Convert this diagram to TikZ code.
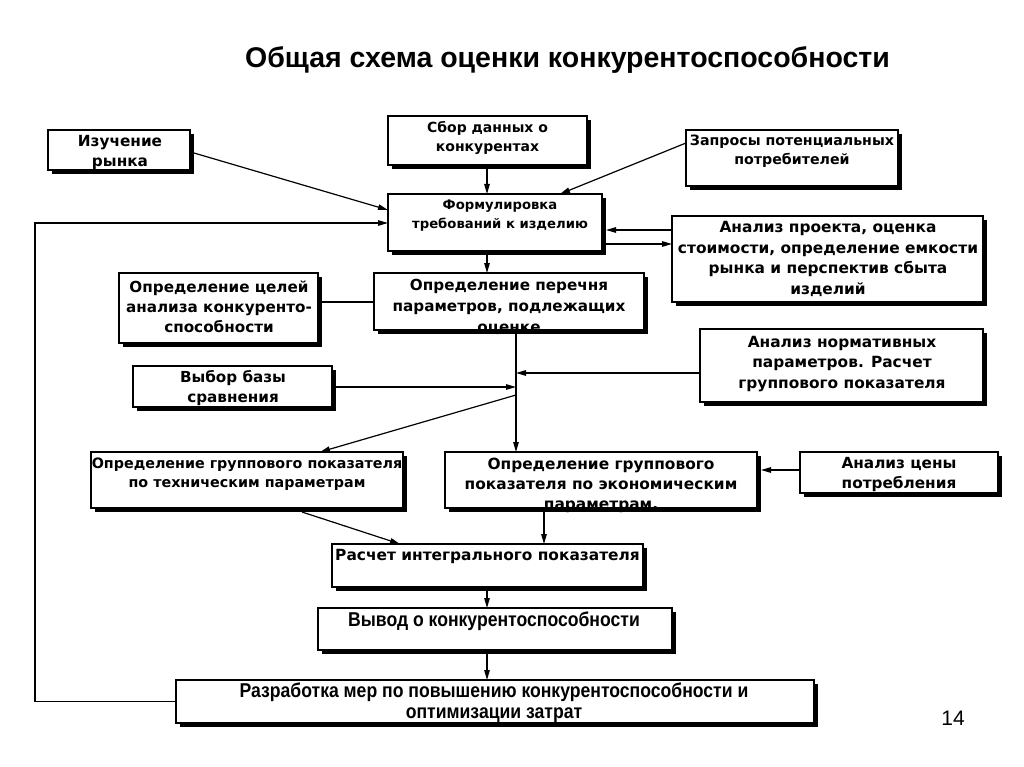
\documentclass[tikz,border=0pt]{standalone}
\usepackage{fontspec}
\usetikzlibrary{arrows.meta,calc,shadows}
\newfontfamily\boxfont{DejaVu Sans}
\newfontfamily\narrowfont[FakeStretch=0.88]{Liberation Sans}
\newfontfamily\titlefont{Liberation Sans}
\begin{document}
\begin{tikzpicture}[x=1pt,y=-1pt,
  box/.style={draw, line width=1.2pt, fill=white, anchor=north west, inner sep=0pt, outer sep=0pt,
    drop shadow={shadow xshift=4pt, shadow yshift=-4pt, opacity=1, fill=black}},
  txt/.style 2 args={align=center, inner sep=0pt, font=\boxfont\bfseries\fontsize{#1}{#2}\selectfont},
  ntxt/.style={align=center, inner sep=0pt, font=\narrowfont\bfseries\fontsize{20}{21}\selectfont},
  arr/.style={line width=1.2pt, -{Triangle[length=10pt,width=5.5pt]}},
  ln/.style={line width=1.2pt}]
\useasboundingbox (0,0) rectangle (1024,767);
\fill[white] (0,0) rectangle (1024,767);

% title and page number
\node[font=\titlefont\bfseries\fontsize{28.5}{32}\selectfont] (title) at (567.5,60) {Общая схема оценки конкурентоспособности};
\node[font=\titlefont\fontsize{21}{24}\selectfont] (pnum) at (953,718) {14};

% boxes
\node[box, minimum width=142pt, minimum height=40pt] (b1) at (48,130) {};
\node[box, minimum width=199pt, minimum height=49pt] (b2) at (388,116) {};
\node[box, minimum width=212pt, minimum height=56pt] (b3) at (686,130) {};
\node[box, minimum width=214pt, minimum height=57pt] (b4) at (388,194) {};
\node[box, minimum width=311pt, minimum height=86pt] (b5) at (672,216) {};
\node[box, minimum width=199pt, minimum height=70pt] (b6) at (119,273) {};
\node[box, minimum width=270pt, minimum height=57pt] (b7) at (374,273) {};
\node[box, minimum width=199pt, minimum height=41pt] (b8) at (133,366) {};
\node[box, minimum width=283pt, minimum height=73pt] (b9) at (700,329) {};
\node[box, minimum width=312pt, minimum height=56pt] (b10) at (91,452) {};
\node[box, minimum width=312pt, minimum height=56pt] (b11) at (445,452) {};
\node[box, minimum width=198pt, minimum height=41pt] (b12) at (800,452) {};
\node[box, minimum width=311pt, minimum height=43pt] (b13) at (332,544) {};
\node[box, minimum width=354pt, minimum height=42pt] (b14) at (318,608) {};
\node[box, minimum width=638pt, minimum height=43pt] (b15) at (176,680) {};

% texts
\node[txt={15.3}{20}] (t1) at (120,153) {Изучение\\рынка};
\node[txt={14}{19}] (t2) at (487.5,137.5) {Сбор данных о\\конкурентах};
\node[txt={14.2}{18.5}] (t3) at (792,151) {Запросы потенциальных\\потребителей};
\node[txt={13.2}{19}] (t4) at (500,215.5) {Формулировка\\требований к изделию};
\node[txt={15.4}{20.7}] (t5) at (828,259) {Анализ проекта, оценка\\стоимости, определение емкости\\рынка и перспектив сбыта\\изделий};
\node[txt={15.2}{20}] (t6) at (219,307) {Определение целей\\анализа конкуренто-\\способности};
\node[txt={15.2}{21}] (t7) at (509,307) {Определение перечня\\параметров, подлежащих\\оценке};
\node[txt={15.2}{20}] (t8) at (233,388) {Выбор базы\\сравнения};
\node[txt={15.4}{20.5}] (t9) at (842,364) {Анализ нормативных\\параметров. Расчет\\группового показателя};
\node[txt={14.3}{18.5}] (t10) at (247,474) {Определение группового показателя\\по техническим параметрам};
\node[txt={15.4}{20}] (t11) at (601,485) {Определение группового\\показателя по экономическим\\параметрам.};
\node[txt={15.3}{20}] (t12) at (899,475) {Анализ цены\\потребления};
\node[txt={15.4}{20}] (t13) at (487.5,556) {Расчет интегрального показателя};
\node[ntxt] (t14) at (494,621) {Вывод о конкурентоспособности};
\node[ntxt] (t15) at (494,703) {Разработка мер по повышению конкурентоспособности и\\оптимизации затрат};

% connectors
\draw[arr] ($(b1.north east)+(4,23)$) -- ($(b4.north west)+(0,16)$);
\draw[arr] (b15.west) -- ++(-141,0) |- ($(b4.north west)+(0,29)$);
\draw[arr] ($(b2.south west)+(99,4)$) coordinate (p2) -- (p2 |- b4.north);
\draw[arr] ($(b3.north west)+(0,13)$) -- ($(b4.north west)+(172,0)$);
\draw[arr] ($(b5.north west)+(0,14)$) coordinate (p5) -- ($(p5 -| b4.east)+(4,0)$);
\draw[arr] ($(b4.north east)+(4,50)$) coordinate (p4) -- (p4 -| b5.west);
\draw[arr] ($(b4.south west)+(99,4)$) coordinate (p4b) -- (p4b |- b7.north);
\draw[ln] ($(b6.north east)+(4,29)$) coordinate (p6) -- (p6 -| b7.west);
\coordinate (tr) at ($(b7.south west)+(142,4)$);
\draw[arr] (tr) -- (tr |- b11.north);
\draw[arr] ($(b9.north west)+(0,44)$) coordinate (p9) -- (p9 -| tr);
\draw[arr] ($(b8.north east)+(4,21)$) coordinate (p8) -- (p8 -| tr);
\coordinate (tr2) at ($(tr)+(0,61)$);
\draw[arr] (tr2) -- ($(b10.north west)+(229,0)$);
\draw[arr] ($(b10.south west)+(211,4)$) -- ($(b13.north west)+(68,0)$);
\draw[arr] ($(b11.south west)+(99,4)$) coordinate (p11) -- (p11 |- b13.north);
\draw[arr] ($(b12.north west)+(0,18)$) coordinate (p12) -- ($(p12 -| b11.east)+(4,0)$);
\draw[arr] ($(b13.south west)+(155,4)$) coordinate (p13) -- (p13 |- b14.north);
\draw[arr] ($(b14.south west)+(169,4)$) coordinate (p14) -- (p14 |- b15.north);
\end{tikzpicture}
\end{document}
